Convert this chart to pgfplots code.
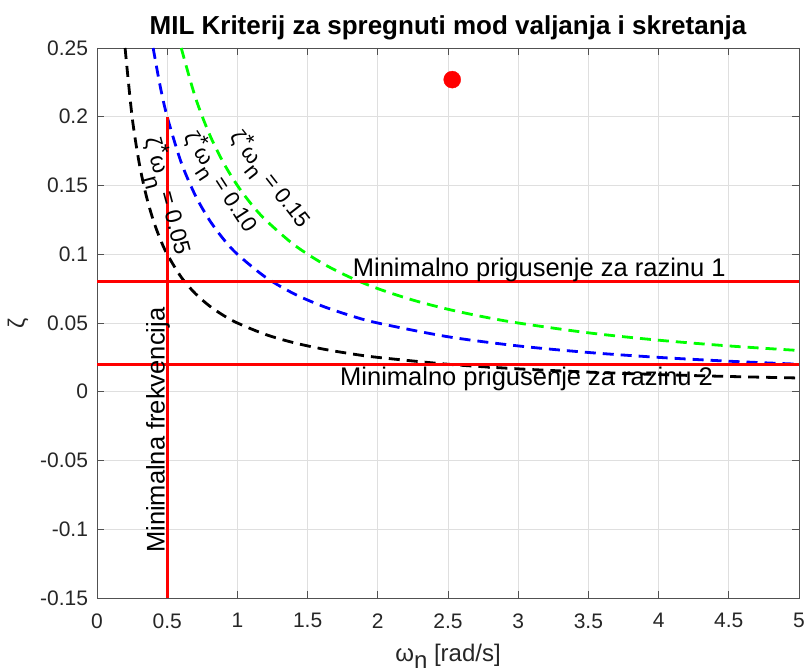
\documentclass[border=0pt]{standalone}
\usepackage{pgfplots}
\pgfplotsset{compat=1.18}
\usepackage{fontspec}
\setmainfont{Liberation Sans}
\definecolor{mgreen}{RGB}{0,255,0}
\definecolor{mblue}{RGB}{0,0,255}
\definecolor{mtick}{RGB}{38,38,38}
\begin{document}
\begin{tikzpicture}
\begin{axis}[
  at={(97pt,-598pt)}, anchor=south west,
  scale only axis, width=702pt, height=550pt,
  xmin=0, xmax=5, ymin=-0.15, ymax=0.25,
  xtick={0,0.5,1,1.5,2,2.5,3,3.5,4,4.5,5},
  ytick={-0.15,-0.1,-0.05,0,0.05,0.1,0.15,0.2,0.25},
  yticklabels={-0.15,-0.1,-0.05,0,0.05,0.1,0.15,0.2,0.25},
  xticklabels={0,0.5,1,1.5,2,2.5,3,3.5,4,4.5,5},
  tick align=inside, major tick length=7pt,
  ticklabel style={font=\fontsize{21}{24}\selectfont, text=mtick},
  xticklabel style={yshift=-12pt},
  yticklabel style={xshift=-5.5pt},
  grid=major, major grid style={gray!25, line width=0.8pt},
  axis line style={mtick!80, line width=0.9pt},
  tick style={mtick!80, line width=0.9pt},
  every axis plot/.append style={line join=round},
  clip=true,
]
% zeta*omega_n = 0.05
\addplot[black, line width=2.8pt, dash pattern=on 11pt off 7pt, smooth] coordinates {
(0.2,0.25) (0.25,0.2) (0.3,0.16667) (0.35,0.14286) (0.4,0.125) (0.45,0.11111)
(0.5,0.1) (0.6,0.08333) (0.7,0.07143) (0.8,0.0625) (0.9,0.05556) (1.0,0.05)
(1.2,0.04167) (1.4,0.03571) (1.6,0.03125) (1.8,0.02778) (2.0,0.025) (2.5,0.02)
(3.0,0.01667) (3.5,0.01429) (4.0,0.0125) (4.5,0.01111) (5.0,0.01)};
% 0.10
\addplot[mblue, line width=2.8pt, dash pattern=on 11pt off 7pt, smooth] coordinates {
(0.4,0.25) (0.45,0.22222) (0.5,0.2) (0.6,0.16667) (0.7,0.14286) (0.8,0.125)
(0.9,0.11111) (1.0,0.1) (1.2,0.08333) (1.4,0.07143) (1.6,0.0625) (1.8,0.05556)
(2.0,0.05) (2.5,0.04) (3.0,0.03333) (3.5,0.02857) (4.0,0.025) (4.5,0.02222) (5.0,0.02)};
% 0.15
\addplot[mgreen, line width=2.8pt, dash pattern=on 11pt off 7pt, smooth] coordinates {
(0.6,0.25) (0.7,0.21429) (0.8,0.1875) (0.9,0.16667) (1.0,0.15) (1.1,0.13636)
(1.2,0.125) (1.4,0.10714) (1.6,0.09375) (1.8,0.08333) (2.0,0.075) (2.25,0.06667)
(2.5,0.06) (2.75,0.05455) (3.0,0.05) (3.5,0.04286) (4.0,0.0375) (4.5,0.03333) (5.0,0.03)};
% red limit lines
\addplot[red, line width=3pt] coordinates {(0.5,-0.15) (0.5,0.2)};
\addplot[red, line width=3pt] coordinates {(0,0.08) (5,0.08)};
\addplot[red, line width=3pt] coordinates {(0,0.02) (5,0.02)};
% point
\addplot[only marks, mark=*, mark size=8.5pt, red, mark options={draw=red, fill=red}] coordinates {(2.53,0.227)};
% annotations
\node[font=\fontsize{25.5}{28}\selectfont, inner sep=0pt, anchor=base] at (axis cs:3.15,0.0835) {Minimalno prigusenje za razinu 1};
\node[font=\fontsize{25.5}{28}\selectfont, inner sep=0pt, anchor=base] at (axis cs:3.06,0.0049) {Minimalno prigusenje za razinu 2};
\node[font=\fontsize{25.5}{28}\selectfont, inner sep=0pt, rotate=90] at (axis cs:0.435,-0.028) {Minimalna frekvencija};
\node[font=\fontsize{23}{26}\selectfont, inner sep=0pt, rotate=-75] at (axis cs:0.485,0.142) {ζ\raisebox{0.25em}{*}ω\raisebox{-0.5em}{n} = 0.05};
\node[font=\fontsize{22}{26}\selectfont, inner sep=0pt, rotate=-57] at (axis cs:0.87,0.152) {ζ\raisebox{0.25em}{*}ω\raisebox{-0.45em}{n} = 0.10};
\node[font=\fontsize{22}{26}\selectfont, inner sep=0pt, rotate=-52] at (axis cs:1.225,0.154) {ζ\raisebox{0.25em}{*}ω\raisebox{-0.45em}{n} = 0.15};
\end{axis}
\node[font=\bfseries\fontsize{26}{30}\selectfont, inner sep=0pt, anchor=base] at (448pt,-35pt) {MIL Kriterij za spregnuti mod valjanja i skretanja};
\node[font=\fontsize{24}{28}\selectfont, inner sep=0pt, text=mtick, anchor=base] at (448pt,-661pt) {ω\raisebox{-0.3em}{n} [rad/s]};
\node[font=\fontsize{23}{26}\selectfont, inner sep=0pt, text=mtick, rotate=90] at (18pt,-323pt) {ζ};
\pgfresetboundingbox
\path (0,0) rectangle (809pt,-669pt);
\end{tikzpicture}
\end{document}
